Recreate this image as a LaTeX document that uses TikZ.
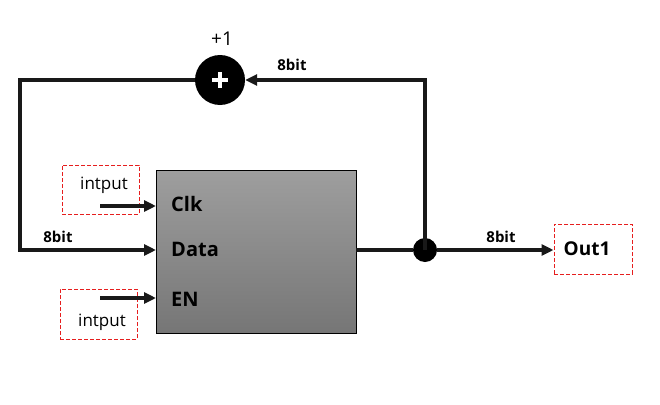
\documentclass[tikz,border=0pt]{standalone}
\usepackage{fontspec}
\setmainfont{Open Sans}
\usetikzlibrary{arrows.meta,calc}
\definecolor{topg}{RGB}{158,158,158}
\definecolor{botg}{RGB}{118,118,118}
\definecolor{dred}{RGB}{230,30,30}
\tikzset{
  wire/.style={line width=4pt, line join=miter, black!90},
  arr/.style={wire, -{Triangle[length=12pt,width=11pt]}},
  dbox/.style={draw=dred, dashed, line width=1pt, dash pattern=on 4pt off 2pt},
  lbl/.style={font=\bfseries\fontsize{20}{20}\selectfont, anchor=west, inner sep=0pt},
  bitlbl/.style={font=\bfseries\fontsize{15}{15}\selectfont, inner sep=0pt},
  inlbl/.style={font=\fontsize{17}{17}\selectfont, inner sep=0pt},
}
\begin{document}
\begin{tikzpicture}[x=1pt,y=-1pt]
\useasboundingbox (0,0) rectangle (660,404);
% block
\shade[top color=topg, bottom color=botg, draw=black, line width=1pt] (156,170) rectangle (356,333);
\node[draw=none, minimum width=200pt, minimum height=163pt, inner sep=0pt] (block) at (256,251.5) {};
\node[lbl] (clk) at (171,204) {Clk};
\node[lbl] (data) at (171,249) {Data};
\node[lbl] (en) at (171,299) {EN};
% input boxes
\node[dbox, minimum width=77pt, minimum height=49pt, inner sep=0pt] (in1) at (100.5,189.5) {};
\node[inlbl] (in1t) at (104,185) {intput};
\node[dbox, minimum width=77pt, minimum height=50pt, inner sep=0pt] (in2) at (98.5,314) {};
\node[inlbl] (in2t) at (102,322) {intput};
% output box
\node[dbox, minimum width=78pt, minimum height=50pt, inner sep=0pt] (out) at (593,249) {};
\node[font=\bfseries\fontsize{19}{19}\selectfont, inner sep=0pt] (outt) at (587,249) {Out1};
% adder and junction
\node[circle, fill=black, minimum size=50pt, inner sep=0pt] (add) at (220,80) {};
\draw[white, line width=4pt] ($(add)+(-8,0)$) -- ($(add)+(8,0)$) ($(add)+(0,-8)$) -- ($(add)+(0,8)$);
\node[font=\fontsize{19}{19}\selectfont, inner sep=0pt] (plus1) at (222,39) {+1};
\node[circle, fill=black, minimum size=24pt, inner sep=0pt] (junc) at (425,250) {};
% coordinates
\coordinate (clkS) at (100,206);
\coordinate (clkE) at (156,206);
\coordinate (dataE) at (156,250);
\coordinate (enS) at (100,298);
\coordinate (enE) at (156,298);
\coordinate (blkR) at (356,250);
\coordinate (tr) at (425,80);
\coordinate (tl) at (20,80);
\coordinate (bl) at (20,250);
% wires
\draw[arr] (clkS) -- (clkE);
\draw[arr] (enS) -- (enE);
\draw[wire] (blkR) -- (junc);
\draw[arr] (junc) -- (junc -| out.west);
\draw[arr] (junc.center) -- (tr) -- (add.east);
\draw[arr] (add.west) -- (tl) -- (bl) -- (dataE);
% bit labels
\node[bitlbl] (b1) at (292,65) {8bit};
\node[bitlbl] (b2) at (58,237) {8bit};
\node[bitlbl] (b3) at (501,237) {8bit};
\end{tikzpicture}
\end{document}
